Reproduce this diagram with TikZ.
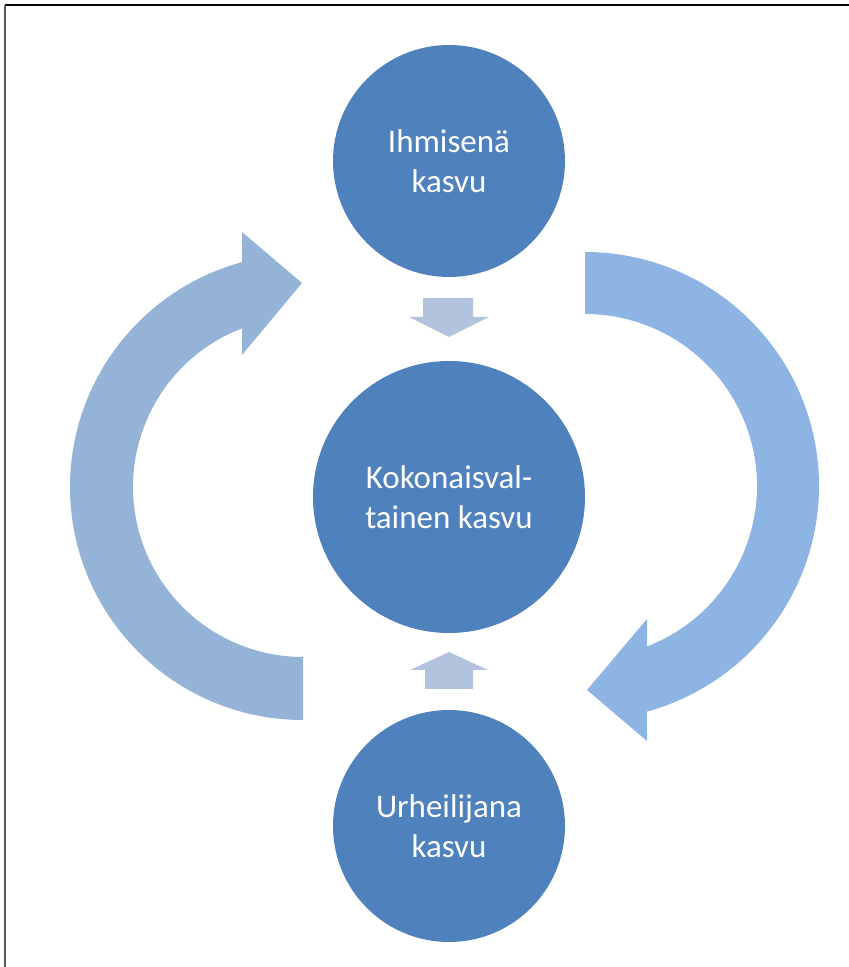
\documentclass[tikz,border=0pt]{standalone}
\usepackage{fontspec}
\setmainfont{Carlito}
\definecolor{circblue}{HTML}{4F81BD}
\definecolor{leftblue}{HTML}{95B3D7}
\definecolor{rightblue}{HTML}{8EB4E3}
\definecolor{smallblue}{HTML}{B3C3DE}
\tikzset{
  growth/.style={circle, fill=circblue, draw=none, text=white, align=center,
    font=\fontsize{33}{40}\selectfont, inner sep=0pt},
  cyclearrow/.style={draw=none},
}
\begin{document}
\begin{tikzpicture}[x=1pt,y=1pt]
  \useasboundingbox (0,0) rectangle (849,967);
  % page frame
  \draw[black, line width=1.3pt] (5,962) -- (849,962);
  \draw[gray!70!black, line width=1.5pt] (5,962) -- (5,0);

  % curved arrow on the left, pointing up towards the top circle
  \coordinate (cL) at (303,480);
  \fill[leftblue] (303,247) arc[start angle=270, end angle=105.18, radius=233]
    -- (242,735) -- (302,684) -- (242,612)
    -- ([shift={(cL)}]111.03:170) arc[start angle=111.03, end angle=270, radius=170]
    -- cycle;

  % curved arrow on the right, pointing down towards the bottom circle
  \coordinate (cR) at (585,481);
  \fill[rightblue] (585,715) arc[start angle=90, end angle=-74.64, radius=234]
    -- (647,226) -- (587,277) -- (647,348)
    -- ([shift={(cR)}]-68.87:172) arc[start angle=-68.87, end angle=90, radius=172]
    -- cycle;

  % circles
  \node[growth, minimum size=232pt] (top) at (449,806) {Ihmisenä\\kasvu};
  \node[growth, minimum size=272pt] (mid) at (449,470) {Kokonaisval-\\tainen kasvu};
  \node[growth, minimum size=232pt] (bot) at (449,141) {Urheilijana\\kasvu};

  % small block arrows into the centre circle
  \fill[smallblue] (423,669) -- (473,669) -- (473,650) -- (489,650)
    -- (449,630) -- (409,650) -- (423,650) -- cycle;
  \fill[smallblue] (425,278) -- (473,278) -- (473,297) -- (488,297)
    -- (449,315) -- (410,297) -- (425,297) -- cycle;
\end{tikzpicture}
\end{document}
